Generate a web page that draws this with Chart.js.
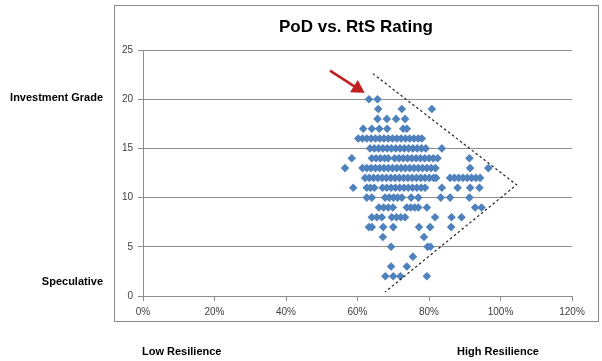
<!DOCTYPE html>
<html>
<head>
<meta charset="utf-8">
<script src="https://cdn.jsdelivr.net/npm/chart.js@4.4.1/dist/chart.umd.min.js"></script>
<style>
html,body{margin:0;padding:0;background:#fff;}
canvas{display:block;}
</style>
</head>
<body>
<canvas id="c" width="602" height="361"></canvas>
<script>
// Rating rows: resilience (%) values for each PoD rating
const rating20 = [63.2, 65.6];
const rating19 = [65.8, 72.4, 80.8];
const rating18 = [65.6, 68.2, 70.8, 73.3];
const rating17 = [61.6, 64.0, 66.1, 68.3, 72.8, 73.8];
const rating16 = [60.2, 61.4, 62.6, 63.8, 65.0, 66.2, 67.4, 68.6, 69.8, 71.0, 72.2, 73.4, 74.6, 75.8, 77.0, 78.0];
const rating15 = [63.5, 64.7, 65.9, 67.1, 68.3, 69.5, 70.7, 71.9, 73.1, 74.3, 75.5, 76.7, 77.9, 79.1, 83.6];
const rating14 = [58.4, 64.0, 65.2, 66.4, 67.6, 68.6, 70.4, 71.6, 72.8, 74.0, 75.2, 76.4, 77.6, 78.8, 80.0, 81.2, 82.4, 91.3];
const rating13 = [56.5, 61.4, 62.6, 63.8, 65.0, 66.2, 67.4, 68.6, 69.8, 71.0, 72.2, 73.4, 74.6, 75.8, 77.0, 78.2, 79.4, 80.6, 81.8, 91.5, 96.6];
const rating12 = [62.1, 63.3, 64.5, 65.7, 66.9, 68.1, 69.3, 70.5, 71.7, 72.9, 74.1, 75.3, 76.5, 77.7, 78.9, 80.1, 81.3, 82.0, 85.9, 87.1, 88.3, 89.5, 90.7, 91.9, 93.1, 94.3];
const rating11 = [58.8, 62.6, 63.6, 64.7, 67.0, 68.2, 69.4, 70.6, 71.8, 73.0, 74.2, 75.4, 76.6, 77.8, 78.9, 83.6, 88.0, 91.5, 94.1];
const rating10 = [62.6, 64.0, 67.7, 68.9, 70.1, 71.2, 72.4, 75.0, 77.0, 83.3, 85.9, 91.3];
const rating9  = [66.0, 67.3, 68.6, 69.9, 73.8, 74.9, 76.0, 77.0, 79.4, 92.9, 94.7];
const rating8  = [64.0, 65.4, 66.8, 69.6, 70.9, 72.1, 73.3, 81.7, 86.3, 89.1];
const rating7  = [63.2, 64.0, 67.2, 70.0, 77.2, 80.3, 86.2];
const rating6  = [67.1, 78.6];
const rating5  = [69.4, 79.6, 80.4];
const rating4  = [75.5];
const rating3  = [69.4, 73.8];
const rating2  = [67.8, 70.0, 72.0, 79.4];

// Boundary (dashed) lines: x in %, y in rating
const boundaryX = [64.3, 104.5, 67.7];
const boundaryY = [22.6, 11.3, 0.4];
// Arrow pointing at the top points
const arrowX = [52.3, 60.0];
const arrowY = [22.9, 21.1];

const yTicks = [0, 5, 10, 15, 20, 25];
const xTicks = [0, 20, 40, 60, 80, 100, 120];

const rows = [
  [20, rating20], [19, rating19], [18, rating18], [17, rating17], [16, rating16],
  [15, rating15], [14, rating14], [13, rating13], [12, rating12], [11, rating11],
  [10, rating10], [9, rating9], [8, rating8], [7, rating7], [6, rating6],
  [5, rating5], [4, rating4], [3, rating3], [2, rating2]
];
const points = [];
rows.forEach(([r, xs]) => xs.forEach(x => points.push({x: x, y: r})));

const BLUE = '#4f81bd';
const GRID = '#8c8c8c';

const decor = {
  id: 'decor',
  beforeDraw(chart) {
    const ctx = chart.ctx;
    ctx.save();
    ctx.fillStyle = '#ffffff';
    ctx.fillRect(0, 0, chart.width, chart.height);
    ctx.strokeStyle = '#8a8a8a';
    ctx.lineWidth = 1;
    ctx.strokeRect(114.5, 5.5, 484, 316);
    ctx.restore();
  },
  afterDraw(chart) {
    const ctx = chart.ctx;
    ctx.save();
    ctx.fillStyle = '#000';
    ctx.textBaseline = 'middle';
    ctx.font = 'bold 17px "Liberation Sans", Arial, sans-serif';
    ctx.textAlign = 'center';
    ctx.fillText('PoD vs. RtS Rating', 356, 27);
    ctx.font = 'bold 11px "Liberation Sans", Arial, sans-serif';
    ctx.textAlign = 'right';
    ctx.fillText('Investment Grade', 103, 98);
    ctx.fillText('Speculative', 103, 282);
    ctx.textAlign = 'left';
    ctx.fillText('Low Resilience', 142, 352);
    ctx.fillText('High Resilience', 457, 352);
    ctx.restore();
  }
};

new Chart(document.getElementById('c'), {
  type: 'scatter',
  data: {
    datasets: [
      {
        data: points,
        pointStyle: 'rectRot',
        pointRadius: 4.3,
        pointBackgroundColor: BLUE,
        pointBorderColor: BLUE,
        pointBorderWidth: 0,
        order: 2
      },
      {
        data: boundaryX.map((x, i) => ({x: x, y: boundaryY[i]})),
        showLine: true,
        borderColor: '#222222',
        borderWidth: 1.2,
        borderDash: [2.5, 2.5],
        pointRadius: 0,
        order: 1
      },
      {
        data: arrowX.map((x, i) => ({x: x, y: arrowY[i]})),
        showLine: true,
        borderColor: '#c0201f',
        backgroundColor: '#c0201f',
        borderWidth: 2.5,
        pointStyle: 'triangle',
        pointRadius: [0, 6],
        pointRotation: [0, 122],
        pointBackgroundColor: '#c0201f',
        pointBorderColor: '#c0201f',
        order: 0
      }
    ]
  },
  options: {
    responsive: false,
    animation: false,
    devicePixelRatio: 1,
    layout: { padding: { left: 0, top: 50, right: 30, bottom: 0 } },
    plugins: { legend: { display: false }, tooltip: { enabled: false }, title: { display: false } },
    scales: {
      x: {
        type: 'linear',
        min: 0, max: 120,
        afterBuildTicks(scale) { scale.ticks = xTicks.map(v => ({value: v})); },
        afterFit(scale) { scale.height = 65; },
        ticks: {
          callback: v => v + '%',
          font: { family: '"Liberation Sans", Arial, sans-serif', size: 10 },
          color: '#404040',
          padding: 5,
          maxRotation: 0
        },
        grid: { drawOnChartArea: false, drawTicks: true, tickLength: 5, color: GRID },
        border: { display: true, color: GRID, width: 1 }
      },
      y: {
        type: 'linear',
        min: 0, max: 25,
        afterBuildTicks(scale) { scale.ticks = yTicks.map(v => ({value: v})); },
        afterFit(scale) { scale.width = 143; },
        ticks: {
          font: { family: '"Liberation Sans", Arial, sans-serif', size: 10 },
          color: '#404040',
          padding: 5
        },
        grid: { color: GRID, drawTicks: true, tickLength: 5, lineWidth: 1 },
        border: { display: true, color: GRID, width: 1 }
      }
    }
  },
  plugins: [decor]
});
</script>
</body>
</html>
